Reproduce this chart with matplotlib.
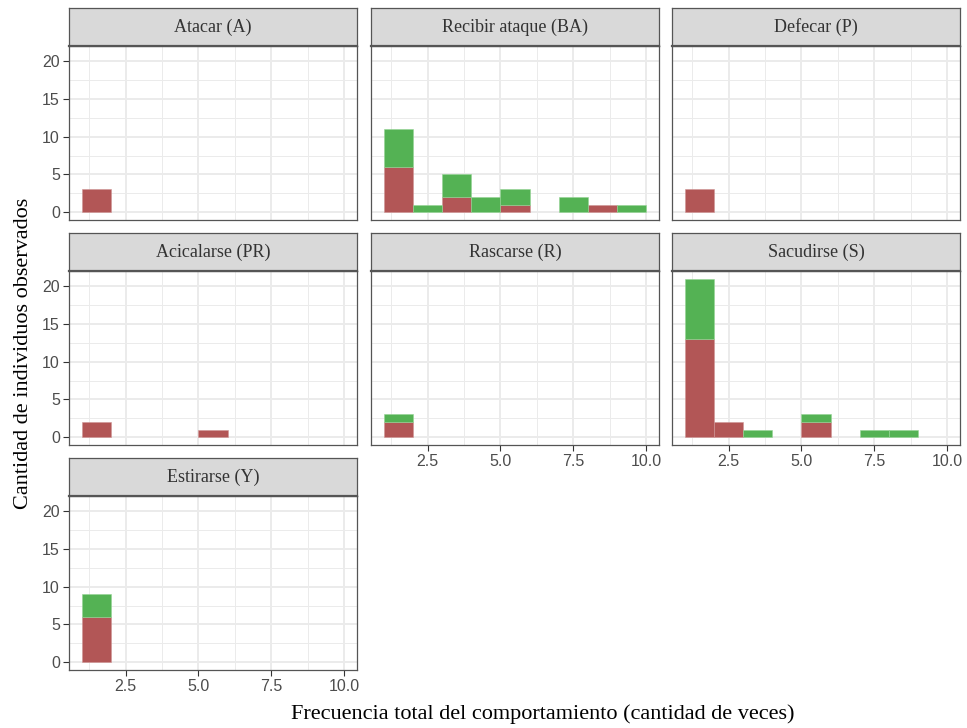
import matplotlib
matplotlib.use("Agg")
import matplotlib.pyplot as plt
import numpy as np

# ---- data ----
bin_left = [1, 2, 3, 4, 5, 6, 7, 8, 9]
titles = ["Atacar (A)", "Recibir ataque (BA)", "Defecar (P)",
          "Acicalarse (PR)", "Rascarse (R)", "Sacudirse (S)", "Estirarse (Y)"]
red_A  = [3, 0, 0, 0, 0, 0, 0, 0, 0]
grn_A  = [0, 0, 0, 0, 0, 0, 0, 0, 0]
red_BA = [6, 0, 2, 0, 1, 0, 0, 1, 0]
grn_BA = [5, 1, 3, 2, 2, 0, 2, 0, 1]
red_P  = [3, 0, 0, 0, 0, 0, 0, 0, 0]
grn_P  = [0, 0, 0, 0, 0, 0, 0, 0, 0]
red_PR = [2, 0, 0, 0, 1, 0, 0, 0, 0]
grn_PR = [0, 0, 0, 0, 0, 0, 0, 0, 0]
red_R  = [2, 0, 0, 0, 0, 0, 0, 0, 0]
grn_R  = [1, 0, 0, 0, 0, 0, 0, 0, 0]
red_S  = [13, 2, 0, 0, 2, 0, 0, 0, 0]
grn_S  = [8, 0, 1, 0, 1, 0, 1, 1, 0]
red_Y  = [6, 0, 0, 0, 0, 0, 0, 0, 0]
grn_Y  = [3, 0, 0, 0, 0, 0, 0, 0, 0]
reds = [red_A, red_BA, red_P, red_PR, red_R, red_S, red_Y]
greens = [grn_A, grn_BA, grn_P, grn_PR, grn_R, grn_S, grn_Y]
x_ticks = [2.5, 5.0, 7.5, 10.0]
y_ticks = [0, 5, 10, 15, 20]

RED = "#b25656"
GREEN = "#54b254"
SERIF = "Liberation Serif"
SANS = "Liberation Sans"

W, H = 967, 728
fig = plt.figure(figsize=(W / 100, H / 100), dpi=100)

col_x = [69, 371, 672]
pw = 288
row_strip_top = [8, 233, 458]
strip_h = 38
ph = 174

def px_rect(x0, ytop, w, h):
    return [x0 / W, 1 - (ytop + h) / H, w / W, h / H]

show_x = {4, 5, 6}

for i, title in enumerate(titles):
    r, c = divmod(i, 3)
    x0 = col_x[c]
    st = row_strip_top[r]
    ax = fig.add_axes(px_rect(x0, st + strip_h, pw, ph))
    ax.set_xlim(0.55, 10.45)
    ax.set_ylim(-1.05, 22.05)
    ax.set_facecolor("white")
    ax.set_axisbelow(True)
    ax.set_xticks(x_ticks)
    ax.set_xticks([1.25, 3.75, 6.25, 8.75], minor=True)
    ax.set_yticks(y_ticks)
    ax.set_yticks([2.5, 7.5, 12.5, 17.5], minor=True)
    ax.grid(which="major", color="#ebebeb", lw=1.4)
    ax.grid(which="minor", color="#ebebeb", lw=0.7)
    ax.tick_params(which="minor", length=0)
    ax.tick_params(which="major", length=4, width=0.8, color="#333333",
                   labelsize=11.5, labelcolor="#4d4d4d", pad=2.5)
    ax.set_xticklabels(["2.5", "5.0", "7.5", "10.0"])
    for lab in ax.get_xticklabels() + ax.get_yticklabels():
        lab.set_fontfamily(SANS)
    if c != 0:
        ax.tick_params(axis="y", which="major", left=False, labelleft=False)
    if i not in show_x:
        ax.tick_params(axis="x", which="major", bottom=False, labelbottom=False)
    for sp in ax.spines.values():
        sp.set_color("#555555")
        sp.set_linewidth(0.9)
    xl = np.array(bin_left, dtype=float)
    rv = np.array(reds[i], dtype=float)
    gv = np.array(greens[i], dtype=float)
    mr = rv > 0
    mg = gv > 0
    ax.bar(xl[mr], rv[mr], width=1, align="edge", color=RED,
           edgecolor="#cf9595", linewidth=0.4)
    ax.bar(xl[mg], gv[mg], width=1, align="edge", bottom=rv[mg],
           color=GREEN, edgecolor="#95d495", linewidth=0.4)

    sax = fig.add_axes(px_rect(x0, st, pw, strip_h))
    sax.set_facecolor("#d9d9d9")
    sax.set_xticks([])
    sax.set_yticks([])
    for sp in sax.spines.values():
        sp.set_color("#555555")
        sp.set_linewidth(0.9)
    sax.spines["bottom"].set_linewidth(1.6)
    sax.text(0.5, 0.5, title, ha="center", va="center", transform=sax.transAxes,
             fontsize=13, family=SERIF, color="#333333")

fig.text(543 / W, 1 - 714 / H, "Frecuencia total del comportamiento (cantidad de veces)",
         ha="center", va="center", fontsize=16, family=SERIF, color="black")
fig.text(24 / W, 1 - 353 / H, "Cantidad de individuos observados",
         ha="center", va="center", rotation=90, fontsize=16, family=SERIF, color="black")

fig.savefig("out.png", dpi=100, facecolor="white")
